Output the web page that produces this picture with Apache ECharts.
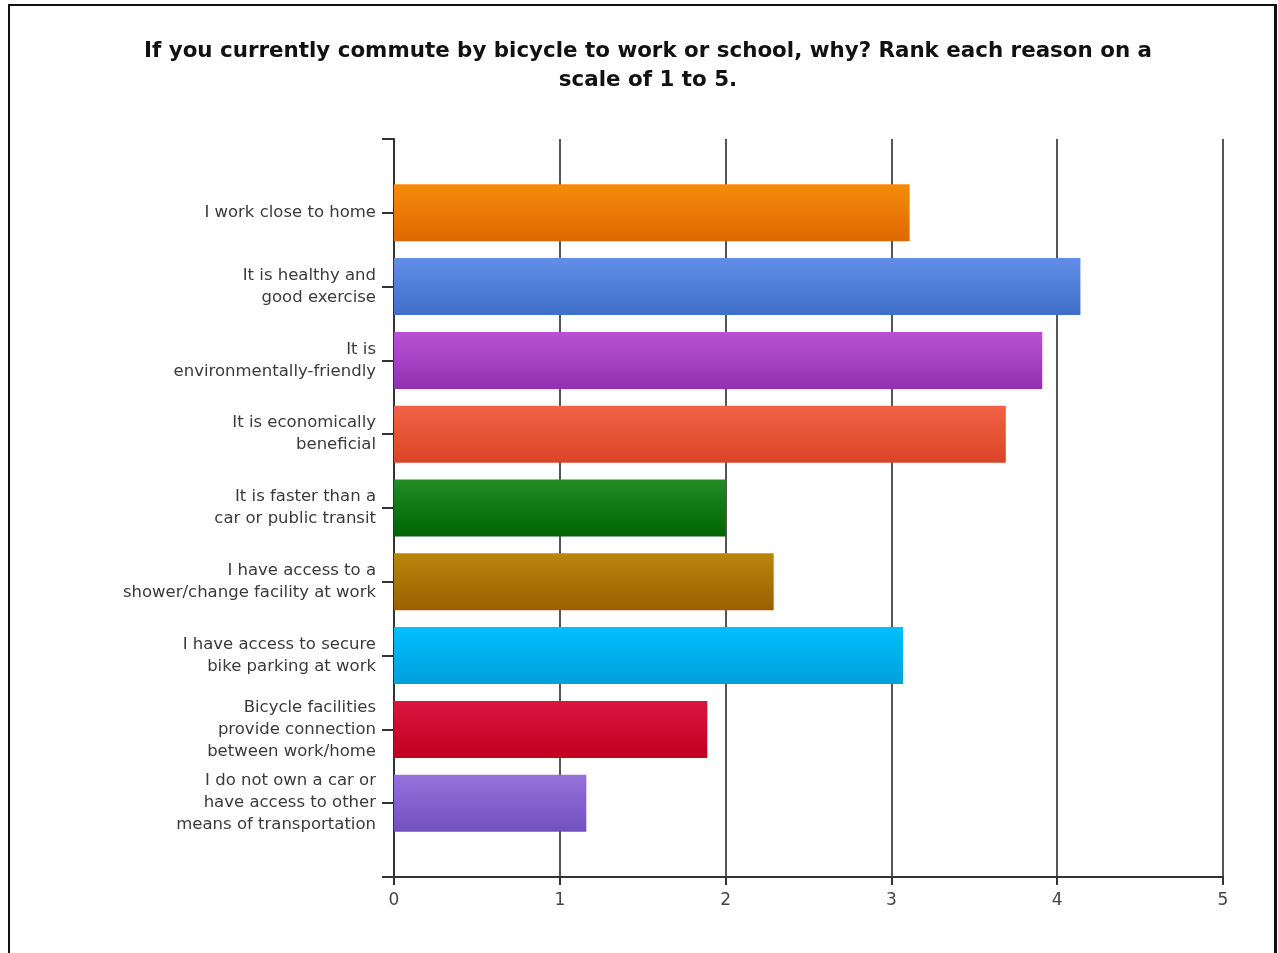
<!DOCTYPE html>
<html>
<head>
<meta charset="utf-8">
<script src="https://cdn.jsdelivr.net/npm/echarts@6/dist/echarts.min.js"></script>
<style>
html,body{margin:0;padding:0;background:#fff;overflow:hidden;}
#chart{position:absolute;left:0;top:0;width:1278px;height:953px;}
#frame{position:absolute;left:8px;top:4px;width:1269px;height:980px;box-sizing:border-box;border-top:2px solid #111;border-left:2px solid #111;border-right:3px solid #111;pointer-events:none;}
</style>
</head>
<body>
<div id="chart"></div>
<div id="frame"></div>
<script>
const titleText = "If you currently commute by bicycle to work or school, why? Rank each reason on a\nscale of 1 to 5.";
const categories = [
  "I work close to home",
  "It is healthy and\ngood exercise",
  "It is\nenvironmentally-friendly",
  "It is economically\nbeneficial",
  "It is faster than a\ncar or public transit",
  "I have access to a\nshower/change facility at work",
  "I have access to secure\nbike parking at work",
  "Bicycle facilities\nprovide connection\nbetween work/home",
  "I do not own a car or\nhave access to other\nmeans of transportation"
];
const values = [3.11, 4.14, 3.91, 3.69, 2.00, 2.29, 3.07, 1.89, 1.16];
const xTicks = [0, 1, 2, 3, 4, 5];
const topColors = ["#F58C0C", "#5E90E8", "#B852D4", "#F26244", "#238C23", "#B8860B", "#00BFFF", "#DC163E", "#9572DC"];
const bottomColors = ["#DE6800", "#3F6EC6", "#9230B0", "#DA4426", "#006400", "#9A6000", "#00A0DA", "#BE0022", "#714FBE"];

const axisCats = [""].concat(categories, [""]);
const seriesData = [null].concat(values.map((v, i) => ({
  value: v,
  itemStyle: {
    color: new echarts.graphic.LinearGradient(0, 0, 0, 1, [
      {offset: 0, color: topColors[i]},
      {offset: 1, color: bottomColors[i]}
    ])
  }
})), [null]);

const chart = echarts.init(document.getElementById('chart'), null, {renderer: 'canvas'});
chart.setOption({
  animation: false,
  backgroundColor: '#fff',
  title: {
    text: titleText,
    left: 643,
    textAlign: 'center',
    top: 32,
    textStyle: {
      fontFamily: 'DejaVu Sans',
      fontWeight: 'bold',
      fontSize: 21.4,
      lineHeight: 29,
      color: '#111'
    }
  },
  grid: {left: 394, right: 55, top: 139, bottom: 76, containLabel: false},
  xAxis: {
    type: 'value',
    min: xTicks[0],
    max: xTicks[xTicks.length - 1],
    interval: 1,
    axisLine: {show: true, onZero: false, lineStyle: {color: '#333', width: 2}},
    axisTick: {show: true, length: 8, lineStyle: {color: '#333', width: 2}},
    axisLabel: {margin: 15, color: '#444', fontFamily: 'DejaVu Sans', fontSize: 17,
      formatter: v => String(v)},
    splitLine: {show: true, lineStyle: {color: '#555', width: 2}}
  },
  yAxis: {
    type: 'category',
    inverse: true,
    boundaryGap: false,
    data: axisCats,
    axisLine: {show: true, lineStyle: {color: '#333', width: 2}},
    axisTick: {show: true, length: 12, interval: 0, lineStyle: {color: '#333', width: 2}},
    axisLabel: {interval: 0, margin: 18, color: '#3a3a3a', fontFamily: 'DejaVu Sans', fontSize: 16.5, lineHeight: 22, align: 'right'},
    splitLine: {show: false}
  },
  series: [{
    type: 'bar',
    data: seriesData,
    barWidth: 57,
    silent: true
  }]
});
</script>
</body>
</html>
